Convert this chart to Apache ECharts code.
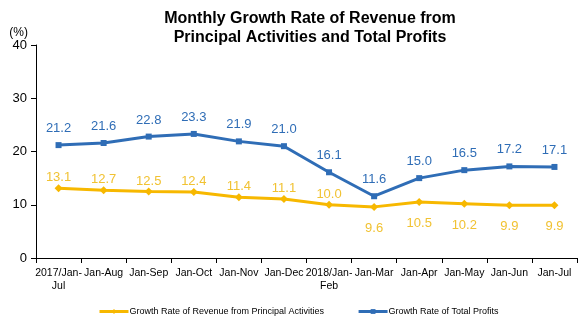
<!DOCTYPE html>
<html>
<head>
<meta charset="utf-8">
<script src="https://cdn.jsdelivr.net/npm/echarts@6/dist/echarts.min.js"></script>
<style>
  html, body { margin: 0; padding: 0; background: #fff; }
  #chart { width: 588px; height: 327px; }
</style>
</head>
<body>
<div id="chart"></div>
<script>
// Cumulative year-on-year growth rates (%), Jul 2017 – Jul 2018
const categories = [
  '2017/Jan-\nJul', 'Jan-Aug', 'Jan-Sep', 'Jan-Oct', 'Jan-Nov', 'Jan-Dec',
  '2018/Jan-\nFeb', 'Jan-Mar', 'Jan-Apr', 'Jan-May', 'Jan-Jun', 'Jan-Jul'
];
const revenueGrowth = [13.1, 12.7, 12.5, 12.4, 11.4, 11.1, 10.0, 9.6, 10.5, 10.2, 9.9, 9.9];
const profitGrowth = [21.2, 21.6, 22.8, 23.3, 21.9, 21.0, 16.1, 11.6, 15.0, 16.5, 17.2, 17.1];
const yTicks = { min: 0, max: 40, interval: 10 };

const revenueName = 'Growth Rate of Revenue from Principal Activities';
const profitName = 'Growth Rate of Total Profits';

const BLUE = '#2f6db6';
const ORANGE = '#f7b800';
const ORANGE_LABEL = '#f1c232';
const FONT = '"Liberation Sans", Arial, sans-serif';

// Revenue labels sit above the line until Jan-Feb 2018, below it afterwards
const revenueData = revenueGrowth.map((v, i) => ({
  value: v,
  label: i <= 6
    ? { position: 'top', distance: 0 }
    : { position: 'bottom', distance: 11 }
}));

const chart = echarts.init(document.getElementById('chart'), null, { renderer: 'canvas' });
chart.setOption({
  animation: false,
  backgroundColor: '#fff',
  title: {
    text: 'Monthly Growth Rate of Revenue from\nPrincipal Activities and Total Profits',
    left: 305,
    textAlign: 'center',
    top: 4,
    textStyle: { fontFamily: FONT, fontSize: 16, fontWeight: 'bold', color: '#000', lineHeight: 19 }
  },
  grid: { left: 36, right: 11, top: 45, bottom: 69 },
  legend: {
    bottom: 6,
    left: 93,
    itemWidth: 29,
    itemHeight: 6,
    itemGap: 33,
    lineStyle: { width: 3 },
    textStyle: { fontFamily: FONT, fontSize: 9, color: '#000', padding: [0, 0, 0, -4] },
    data: [revenueName, profitName]
  },
  xAxis: {
    type: 'category',
    data: categories,
    boundaryGap: true,
    axisLine: { lineStyle: { color: '#000', width: 1 } },
    axisTick: { show: true, alignWithLabel: false, length: 5, inside: false, lineStyle: { color: '#000' } },
    axisLabel: { fontFamily: FONT, fontSize: 10.5, color: '#000', interval: 0, margin: 9, lineHeight: 13 },
    splitLine: { show: false }
  },
  yAxis: {
    type: 'value',
    min: yTicks.min,
    max: yTicks.max,
    interval: yTicks.interval,
    name: '(%)',
    nameLocation: 'end',
    nameGap: 6,
    nameTextStyle: { fontFamily: FONT, fontSize: 12, color: '#000', align: 'right', padding: [0, 8, -6, 0] },
    axisLine: { show: true, lineStyle: { color: '#000', width: 1 } },
    axisTick: { show: true, length: 5, lineStyle: { color: '#000' } },
    axisLabel: { fontFamily: FONT, fontSize: 13, color: '#000', margin: 9 },
    splitLine: { show: false }
  },
  series: [
    {
      name: revenueName,
      type: 'line',
      data: revenueData,
      color: ORANGE,
      lineStyle: { width: 3, color: ORANGE },
      symbol: 'diamond',
      symbolSize: 8,
      itemStyle: { color: ORANGE },
      label: { show: true, fontFamily: FONT, fontSize: 13, color: ORANGE_LABEL, formatter: p => p.value.toFixed(1) },
      z: 2
    },
    {
      name: profitName,
      type: 'line',
      data: profitGrowth,
      color: BLUE,
      lineStyle: { width: 3, color: BLUE },
      symbol: 'rect',
      symbolSize: 6,
      itemStyle: { color: BLUE },
      label: { show: true, position: 'top', distance: 7, fontFamily: FONT, fontSize: 13, color: BLUE, formatter: p => p.value.toFixed(1) },
      z: 3
    }
  ]
});
</script>
</body>
</html>
